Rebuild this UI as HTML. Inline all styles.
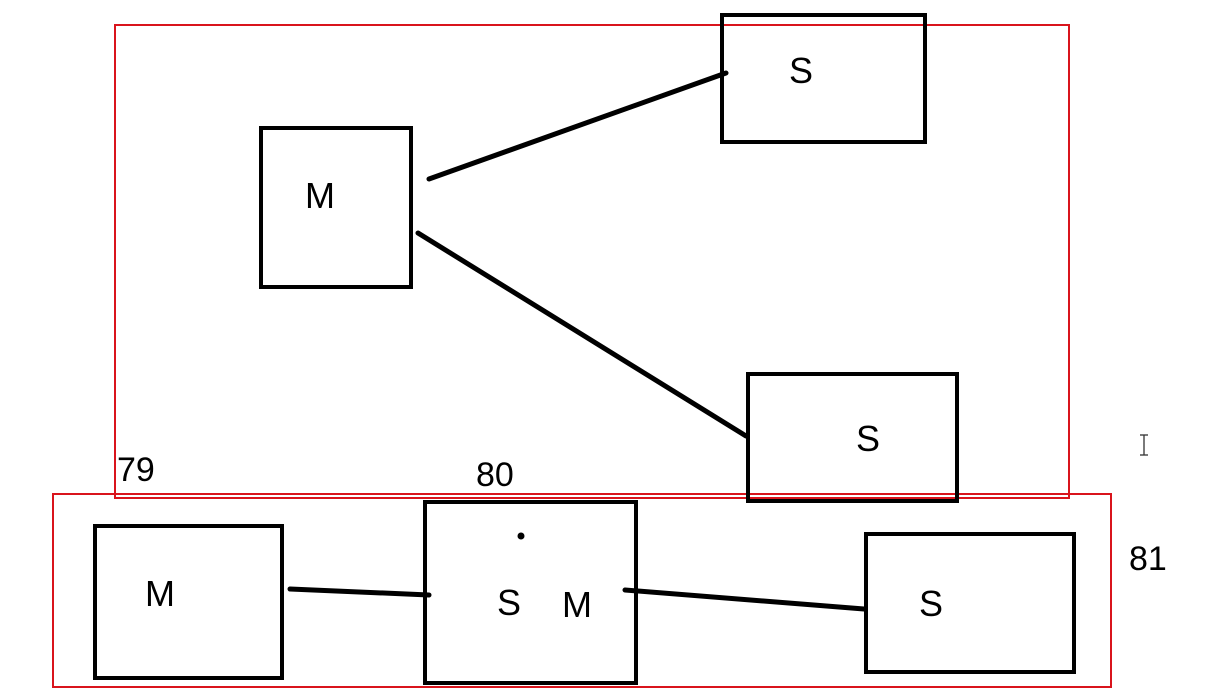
<!DOCTYPE html>
<html>
<head>
<meta charset="utf-8">
<style>
  html, body { margin:0; padding:0; background:#fff; }
  svg { display:block; }
  text { font-family: "Liberation Sans", sans-serif; fill:#000; }
</style>
</head>
<body>
<svg width="1212" height="694" viewBox="0 0 1212 694">
  <rect x="115" y="25" width="954" height="473" fill="none" stroke="#d9141c" stroke-width="2"/>
  <rect x="53" y="494" width="1058" height="193" fill="none" stroke="#d9141c" stroke-width="2"/>

  <g fill="none" stroke="#000" stroke-width="4">
    <rect x="261" y="128" width="150" height="159"/>
    <rect x="722" y="15" width="203" height="127"/>
    <rect x="748" y="374" width="209" height="127"/>
    <rect x="95" y="526" width="187" height="152"/>
    <rect x="425" y="502" width="211" height="181"/>
    <rect x="866" y="534" width="208" height="138"/>
  </g>

  <g stroke="#000" stroke-width="5" stroke-linecap="round">
    <line x1="429" y1="179" x2="726" y2="73"/>
    <line x1="418" y1="233" x2="746" y2="436"/>
    <line x1="290" y1="589" x2="429" y2="595"/>
    <line x1="625" y1="590" x2="864" y2="609"/>
  </g>
  <circle cx="521" cy="536" r="3.5" fill="#000"/>

  <g font-size="36">
    <text x="305" y="208">M</text>
    <text x="789" y="83">S</text>
    <text x="856" y="451">S</text>
    <text x="145" y="606">M</text>
    <text x="497" y="615">S</text>
    <text x="562" y="617">M</text>
    <text x="919" y="616">S</text>
  </g>
  <g font-size="34">
    <text x="117" y="481">79</text>
    <text x="476" y="486">80</text>
    <text x="1129" y="570">81</text>
  </g>
  <g stroke="#333" stroke-width="1.3" fill="none">
    <line x1="1144" y1="435" x2="1144" y2="455"/>
    <line x1="1140" y1="435" x2="1148" y2="435"/>
    <line x1="1140" y1="455" x2="1148" y2="455"/>
  </g>
</svg>
</body>
</html>
